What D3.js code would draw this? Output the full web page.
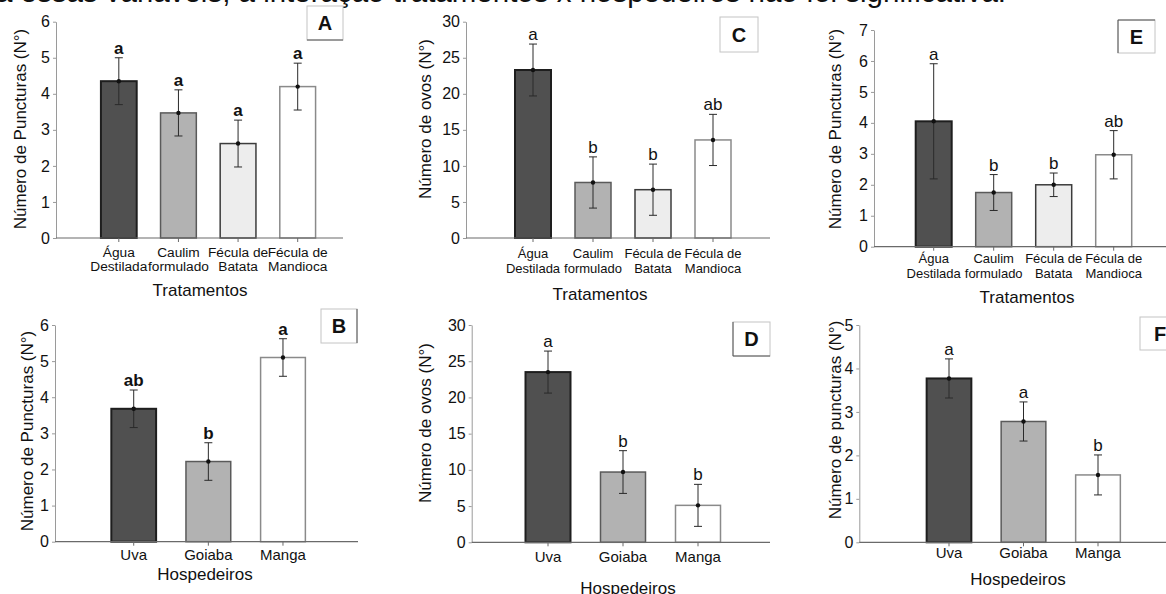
<!DOCTYPE html>
<html>
<head>
<meta charset="utf-8">
<script src="https://cdn.jsdelivr.net/npm/d3@7"></script>
<style>
  body { margin: 0; background: #fff; }
  svg { display: block; font-family: Arial, 'Liberation Sans', sans-serif; }
</style>
</head>
<body>
<svg width="1166" height="594"></svg>
<script>
// categories
let tratamentos = [['Água', 'Destilada'], ['Caulim', 'formulado'], ['Fécula de', 'Batata'], ['Fécula de', 'Mandioca']];
let hospedeiros = [['Uva'], ['Goiaba'], ['Manga']];

// A - puncturas x tratamentos
let puncTratMean = [4.35, 3.47, 2.62, 4.2];
let puncTratErr = [0.65, 0.64, 0.65, 0.65];
let puncTratLetters = ['a', 'a', 'a', 'a'];

// B - puncturas x hospedeiros
let puncHospMean = [3.68, 2.22, 5.1];
let puncHospErr = [0.52, 0.52, 0.52];
let puncHospLetters = ['ab', 'b', 'a'];

// C - ovos x tratamentos
let ovosTratMean = [23.3, 7.7, 6.7, 13.6];
let ovosTratErr = [3.6, 3.55, 3.55, 3.55];
let ovosTratLetters = ['a', 'b', 'b', 'ab'];

// D - ovos x hospedeiros
let ovosHospMean = [23.5, 9.7, 5.1];
let ovosHospErr = [2.9, 2.95, 2.9];
let ovosHospLetters = ['a', 'b', 'b'];

// E - puncturas x tratamentos (2)
let punc2TratMean = [4.05, 1.75, 2.0, 2.97];
let punc2TratErr = [1.86, 0.58, 0.38, 0.78];
let punc2TratLetters = ['a', 'b', 'b', 'ab'];

// F - puncturas x hospedeiros (2)
let punc2HospMean = [3.77, 2.78, 1.55];
let punc2HospErr = [0.45, 0.45, 0.46];
let punc2HospLetters = ['a', 'a', 'b'];

let svg = d3.select('svg');

// bar looks, by position in the panel
let styles4 = [
    { fill: '#505050', stroke: '#1e1e1e', sw: 2 },
    { fill: '#b2b2b2', stroke: '#5a5a5a', sw: 1.5 },
    { fill: '#ededed', stroke: '#3c3c3c', sw: 1.5 },
    { fill: '#ffffff', stroke: '#8a8a8a', sw: 1.5 }
];
let styles3 = [styles4[0], styles4[1], styles4[3]];

// sentence from the page above, cut by the top edge as in the scan
svg.append('text')
    .attr('x', -50)
    .attr('y', 1.5)
    .attr('font-size', '29.5px')
    .attr('fill', '#111')
    .text('Para essas variáveis, a interação tratamentos x hospedeiros não foi significativa.');

function drawPanel(p) {
    let g = svg.append('g');
    let n = p.mean.length;
    let st = n === 4 ? styles4 : styles3;

    let y = d3.scaleLinear().domain([0, p.yMax]).range([p.bottom, p.top]);
    let x = d3.scaleBand().domain(d3.range(n)).range(p.band)
        .paddingInner(0.4).paddingOuter(0.2);

    // y axis
    let yAxis = d3.axisLeft(y)
        .tickValues(d3.range(0, p.yMax + 0.001, p.step))
        .tickFormat(d3.format('d'))
        .tickSize(3)
        .tickSizeOuter(0)
        .tickPadding(3);
    let ya = g.append('g')
        .attr('transform', 'translate(' + p.axisX + ',0)')
        .call(yAxis);
    ya.select('.domain').attr('stroke', '#9a9a9a');
    ya.selectAll('.tick line').attr('stroke', '#9a9a9a');
    ya.selectAll('.tick text')
        .attr('font-size', '16px')
        .attr('font-family', 'Arial, Liberation Sans, sans-serif')
        .attr('fill', '#111');

    // bars
    g.selectAll('.bar').data(p.mean).enter().append('rect')
        .attr('class', 'bar')
        .attr('x', (d, i) => x(i))
        .attr('y', d => y(d))
        .attr('width', x.bandwidth())
        .attr('height', d => p.bottom - y(d))
        .attr('fill', (d, i) => st[i].fill)
        .attr('stroke', (d, i) => st[i].stroke)
        .attr('stroke-width', (d, i) => st[i].sw);

    // x axis line + little ticks
    g.append('line')
        .attr('x1', p.axisX).attr('x2', p.axisEnd)
        .attr('y1', p.bottom).attr('y2', p.bottom)
        .attr('stroke', '#6a6a6a').attr('stroke-width', 1.2);
    let xAxis = d3.axisBottom(x).tickSize(4).tickFormat('');
    let xa = g.append('g')
        .attr('transform', 'translate(0,' + p.bottom + ')')
        .call(xAxis);
    xa.select('.domain').remove();
    xa.selectAll('.tick line').attr('stroke', '#6a6a6a');

    // category labels
    let lab = g.selectAll('.cat').data(p.cats).enter().append('text')
        .attr('class', 'cat')
        .attr('text-anchor', 'middle')
        .attr('font-size', p.catSize + 'px')
        .attr('fill', '#111');
    lab.selectAll('tspan').data((d, i) => d.map(t => ({ t: t, i: i }))).enter().append('tspan')
        .attr('x', d => x(d.i) + x.bandwidth() / 2)
        .attr('y', (d, j) => p.bottom + p.catDy + j * p.catLine)
        .text(d => d.t);

    // error bars
    let cap = 4;
    let eb = g.selectAll('.err').data(p.mean).enter().append('g')
        .attr('class', 'err')
        .attr('transform', (d, i) => 'translate(' + (x(i) + x.bandwidth() / 2) + ',0)');
    eb.append('line')
        .attr('y1', (d, i) => y(d - p.err[i]))
        .attr('y2', (d, i) => y(d + p.err[i]))
        .attr('stroke', '#2a2a2a');
    eb.append('line')
        .attr('x1', -cap).attr('x2', cap)
        .attr('y1', (d, i) => y(d + p.err[i]))
        .attr('y2', (d, i) => y(d + p.err[i]))
        .attr('stroke', '#2a2a2a');
    eb.append('line')
        .attr('x1', -cap).attr('x2', cap)
        .attr('y1', (d, i) => y(d - p.err[i]))
        .attr('y2', (d, i) => y(d - p.err[i]))
        .attr('stroke', '#2a2a2a');
    eb.append('circle')
        .attr('cy', d => y(d))
        .attr('r', 2.2)
        .attr('fill', '#111');

    // significance letters
    g.selectAll('.sig').data(p.mean).enter().append('text')
        .attr('class', 'sig')
        .attr('text-anchor', 'middle')
        .attr('x', (d, i) => x(i) + x.bandwidth() / 2)
        .attr('y', (d, i) => y(d + p.err[i]) - 4)
        .attr('font-size', '17px')
        .attr('font-weight', p.bold ? 700 : 400)
        .attr('fill', '#111')
        .text((d, i) => p.letters[i]);

    // axis titles
    g.append('text')
        .attr('transform', 'translate(' + p.yLab[0] + ',' + p.yLab[1] + ') rotate(-90)')
        .attr('text-anchor', 'middle')
        .attr('dominant-baseline', 'central')
        .attr('font-size', '17px')
        .attr('fill', '#111')
        .text(p.yTitle);
    g.append('text')
        .attr('x', p.xLab[0]).attr('y', p.xLab[1])
        .attr('text-anchor', 'middle')
        .attr('font-size', '17px')
        .attr('fill', '#111')
        .text(p.xTitle);

    // panel letter box
    let b = p.box;
    g.append('rect')
        .attr('x', b[0]).attr('y', b[1])
        .attr('width', b[2]).attr('height', b[3])
        .attr('fill', '#fff')
        .attr('stroke', '#c4c4c4');
    p.darkSides.forEach(s => {
        let x1 = s === 'r' ? b[0] + b[2] : b[0];
        let x2 = s === 'l' ? b[0] : b[0] + b[2];
        let y1 = s === 'b' ? b[1] + b[3] : b[1];
        let y2 = s === 't' ? b[1] : b[1] + b[3];
        g.append('line')
            .attr('x1', x1).attr('x2', x2).attr('y1', y1).attr('y2', y2)
            .attr('stroke', '#555');
    });
    g.append('text')
        .attr('x', b[0] + b[2] / 2)
        .attr('y', b[1] + b[3] / 2 + 7)
        .attr('text-anchor', 'middle')
        .attr('font-size', '20px')
        .attr('font-weight', 700)
        .attr('fill', '#111')
        .text(p.name);
}

drawPanel({
    name: 'A', mean: puncTratMean, err: puncTratErr, letters: puncTratLetters, bold: true,
    cats: tratamentos, yMax: 6, step: 1,
    axisX: 56, axisEnd: 343, top: 21.7, bottom: 238, band: [89, 327.5],
    catSize: 13.7, catDy: 18.5, catLine: 14,
    yTitle: 'Número de Puncturas (N°)', yLab: [20, 129],
    xTitle: 'Tratamentos', xLab: [200, 296],
    box: [307, 6, 36, 34], darkSides: ['b']
});

drawPanel({
    name: 'C', mean: ovosTratMean, err: ovosTratErr, letters: ovosTratLetters, bold: false,
    cats: tratamentos, yMax: 30, step: 5,
    axisX: 466, axisEnd: 770, top: 21.7, bottom: 238, band: [503, 743],
    catSize: 13, catDy: 19.5, catLine: 15,
    yTitle: 'Número de ovos (N°)', yLab: [425, 119],
    xTitle: 'Tratamentos', xLab: [600, 300],
    box: [720, 17, 38, 35], darkSides: []
});

drawPanel({
    name: 'E', mean: punc2TratMean, err: punc2TratErr, letters: punc2TratLetters, bold: false,
    cats: tratamentos, yMax: 7, step: 1,
    axisX: 874, axisEnd: 1166, top: 30, bottom: 246.7, band: [903.7, 1143.7],
    catSize: 13, catDy: 16.5, catLine: 15,
    yTitle: 'Número de Puncturas (N°)', yLab: [835, 129],
    xTitle: 'Tratamentos', xLab: [1027, 303],
    box: [1118, 20, 37, 33], darkSides: ['t', 'l']
});

drawPanel({
    name: 'B', mean: puncHospMean, err: puncHospErr, letters: puncHospLetters, bold: true,
    cats: hospedeiros, yMax: 6, step: 1,
    axisX: 55, axisEnd: 358, top: 325, bottom: 541.7, band: [96.4, 320.3],
    catSize: 15, catDy: 18.5, catLine: 15,
    yTitle: 'Número de Puncturas (N°)', yLab: [27, 431],
    xTitle: 'Hospedeiros', xLab: [205, 580],
    box: [321, 309, 36, 34], darkSides: ['r']
});

drawPanel({
    name: 'D', mean: ovosHospMean, err: ovosHospErr, letters: ovosHospLetters, bold: false,
    cats: hospedeiros, yMax: 30, step: 5,
    axisX: 471.7, axisEnd: 770, top: 325, bottom: 542.3, band: [510.5, 735.5],
    catSize: 15, catDy: 20, catLine: 15,
    yTitle: 'Número de ovos (N°)', yLab: [425, 423],
    xTitle: 'Hospedeiros', xLab: [628, 594],
    box: [733, 322, 37, 34], darkSides: ['l', 'b']
});

drawPanel({
    name: 'F', mean: punc2HospMean, err: punc2HospErr, letters: punc2HospLetters, bold: false,
    cats: hospedeiros, yMax: 5, step: 1,
    axisX: 859.3, axisEnd: 1166, top: 325, bottom: 542.3, band: [911.75, 1135.25],
    catSize: 15, catDy: 16, catLine: 15,
    yTitle: 'Número de puncturas (N°)', yLab: [835, 420],
    xTitle: 'Hospedeiros', xLab: [1018, 585],
    box: [1140, 317, 40, 33], darkSides: []
});
</script>
</body>
</html>
